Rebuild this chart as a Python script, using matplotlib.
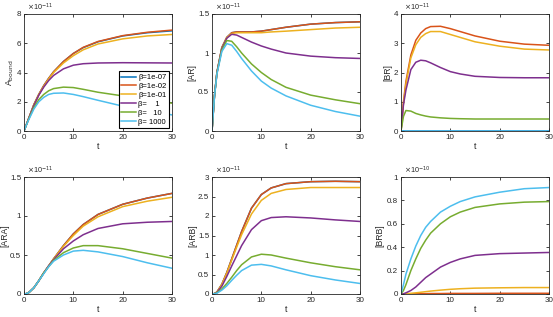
import matplotlib
matplotlib.use("Agg")
import matplotlib.pyplot as plt
from matplotlib.ticker import FormatStrFormatter

plt.rcParams["font.family"] = ["Liberation Sans", "DejaVu Sans"]
plt.rcParams["font.size"] = 7

# common time grid
t = [0, 0.5, 1, 2, 3, 4, 5, 6, 8, 10, 12, 15, 20, 25, 30]

labels = ["β=1e-07", "β=1e-02", "β=1e-01",
          "β=    1", "β=   10", "β= 1000"]
colors = ["#0072BD", "#D95319", "#EDB120", "#7E2F8E", "#77AC30", "#4DBEEE"]

# A_bound (x1e-11)
abound = [
    [0, 0.45, 0.9, 1.8, 2.5, 3.1, 3.6, 4.05, 4.75, 5.3, 5.7, 6.1, 6.5, 6.72, 6.85],
    [0, 0.45, 0.9, 1.8, 2.5, 3.1, 3.6, 4.05, 4.75, 5.3, 5.72, 6.12, 6.52, 6.75, 6.9],
    [0, 0.45, 0.9, 1.8, 2.5, 3.05, 3.55, 4.0, 4.65, 5.15, 5.55, 5.95, 6.3, 6.5, 6.6],
    [0, 0.45, 0.9, 1.75, 2.45, 3.0, 3.45, 3.8, 4.25, 4.5, 4.6, 4.65, 4.67, 4.66, 4.65],
    [0, 0.43, 0.85, 1.6, 2.15, 2.5, 2.75, 2.9, 3.0, 2.97, 2.85, 2.65, 2.4, 2.15, 1.9],
    [0, 0.42, 0.8, 1.5, 2.0, 2.3, 2.5, 2.58, 2.6, 2.5, 2.35, 2.1, 1.7, 1.4, 1.1],
]
# [AR] (x1e-11)
ar = [
    [0, 0.45, 0.75, 1.07, 1.2, 1.26, 1.27, 1.27, 1.27, 1.28, 1.3, 1.33, 1.37, 1.39, 1.4],
    [0, 0.45, 0.75, 1.07, 1.2, 1.26, 1.27, 1.27, 1.27, 1.28, 1.3, 1.33, 1.37, 1.39, 1.4],
    [0, 0.45, 0.75, 1.07, 1.2, 1.25, 1.26, 1.26, 1.26, 1.26, 1.27, 1.28, 1.3, 1.32, 1.33],
    [0, 0.45, 0.75, 1.06, 1.19, 1.24, 1.23, 1.2, 1.14, 1.09, 1.05, 1.0, 0.96, 0.94, 0.93],
    [0, 0.45, 0.74, 1.04, 1.16, 1.15, 1.08, 1.0, 0.86, 0.75, 0.66, 0.56, 0.46, 0.4, 0.35],
    [0, 0.44, 0.73, 1.02, 1.12, 1.1, 1.02, 0.93, 0.77, 0.64, 0.55, 0.45, 0.33, 0.25, 0.19],
]
# [BR] (x1e-11)
br = [
    [0] * 15,
    [0, 1.0, 1.7, 2.6, 3.1, 3.35, 3.5, 3.57, 3.58, 3.5, 3.4, 3.25, 3.07, 2.97, 2.93],
    [0, 0.95, 1.6, 2.5, 2.95, 3.2, 3.33, 3.4, 3.4, 3.3, 3.2, 3.05, 2.9, 2.8, 2.77],
    [0, 0.9, 1.4, 2.1, 2.35, 2.42, 2.4, 2.33, 2.17, 2.03, 1.95, 1.87, 1.83, 1.82, 1.82],
    [0, 0.5, 0.7, 0.68, 0.6, 0.55, 0.51, 0.48, 0.45, 0.43, 0.42, 0.41, 0.41, 0.41, 0.41],
    [0] * 15,
]
# [ARA] (x1e-11)
ara = [
    [0, 0.005, 0.02, 0.08, 0.17, 0.27, 0.36, 0.45, 0.62, 0.77, 0.89, 1.02, 1.15, 1.23, 1.29],
    [0, 0.005, 0.02, 0.08, 0.17, 0.27, 0.36, 0.45, 0.62, 0.77, 0.89, 1.02, 1.15, 1.23, 1.29],
    [0, 0.005, 0.02, 0.08, 0.17, 0.27, 0.36, 0.45, 0.61, 0.75, 0.87, 0.99, 1.12, 1.19, 1.24],
    [0, 0.005, 0.02, 0.08, 0.17, 0.27, 0.36, 0.44, 0.58, 0.68, 0.76, 0.84, 0.9, 0.92, 0.93],
    [0, 0.005, 0.02, 0.08, 0.17, 0.27, 0.35, 0.43, 0.53, 0.59, 0.62, 0.62, 0.58, 0.52, 0.46],
    [0, 0.005, 0.02, 0.08, 0.17, 0.26, 0.35, 0.42, 0.5, 0.55, 0.56, 0.54, 0.48, 0.4, 0.33],
]
# [ARB] (x1e-11)
arb = [
    [0, 0.01, 0.05, 0.25, 0.55, 0.9, 1.25, 1.6, 2.2, 2.55, 2.72, 2.83, 2.88, 2.89, 2.88],
    [0, 0.01, 0.05, 0.25, 0.55, 0.9, 1.25, 1.6, 2.2, 2.55, 2.72, 2.83, 2.88, 2.89, 2.88],
    [0, 0.01, 0.05, 0.24, 0.53, 0.87, 1.2, 1.52, 2.05, 2.4, 2.58, 2.68, 2.73, 2.73, 2.73],
    [0, 0.01, 0.04, 0.2, 0.45, 0.72, 0.98, 1.24, 1.65, 1.88, 1.96, 1.98, 1.95, 1.9, 1.86],
    [0, 0.01, 0.03, 0.13, 0.27, 0.43, 0.6, 0.75, 0.95, 1.02, 1.0, 0.92, 0.8, 0.7, 0.62],
    [0, 0.005, 0.02, 0.1, 0.21, 0.35, 0.48, 0.6, 0.74, 0.76, 0.72, 0.62, 0.47, 0.36, 0.27],
]
# [BRB] (x1e-10)
brb = [
    [0] * 15,
    [0, 0, 0.0005, 0.001, 0.002, 0.003, 0.003, 0.004, 0.004, 0.005, 0.005, 0.005, 0.006, 0.006, 0.006],
    [0, 0.0005, 0.002, 0.006, 0.01, 0.015, 0.02, 0.025, 0.033, 0.04, 0.045, 0.05, 0.053, 0.055, 0.055],
    [0, 0.002, 0.01, 0.03, 0.06, 0.1, 0.14, 0.17, 0.23, 0.27, 0.3, 0.33, 0.345, 0.35, 0.355],
    [0, 0.03, 0.08, 0.2, 0.3, 0.39, 0.46, 0.52, 0.6, 0.66, 0.7, 0.74, 0.77, 0.785, 0.79],
    [0, 0.08, 0.17, 0.3, 0.41, 0.5, 0.57, 0.62, 0.7, 0.75, 0.79, 0.83, 0.87, 0.9, 0.91],
]

panels = [
    (abound, r"A$_{\rm bound}$", 8, [0, 2, 4, 6, 8], "-11", -0.055),
    (ar, "[AR]", 1.5, [0, 0.5, 1, 1.5], "-11", -0.105),
    (br, "[BR]", 4, [0, 1, 2, 3, 4], "-11", -0.055),
    (ara, "[ARA]", 1.5, [0, 0.5, 1, 1.5], "-11", -0.1),
    (arb, "[ARB]", 3, [0, 0.5, 1, 1.5, 2, 2.5, 3], "-11", -0.1),
    (brb, "[BRB]", 1, [0, 0.2, 0.4, 0.6, 0.8, 1], "-10", -0.112),
]

W, H = 553, 317
fig = plt.figure(figsize=(W / 100, H / 100), dpi=100)
lefts = [24, 212, 401]
tops = [14, 177]
aw, ah = 148, 117

dark = "#262626"
for k, (data, ylab, ymax, yt, exp, lx) in enumerate(panels):
    r, c = divmod(k, 3)
    ax = fig.add_axes([lefts[c] / W, 1 - (tops[r] + ah) / H, aw / W, ah / H])
    for i in range(6):
        ax.plot(t, data[i], color=colors[i], lw=1.1, label=labels[i])
    ax.set_xlim(0, 30)
    ax.set_ylim(0, ymax)
    ax.set_xticks([0, 10, 20, 30])
    ax.set_yticks(yt)
    ax.yaxis.set_major_formatter(FormatStrFormatter("%g"))
    ax.tick_params(direction="in", top=True, right=True, length=2.5, width=0.6,
                   labelsize=5.8, colors=dark, pad=2)
    for s in ax.spines.values():
        s.set_linewidth(0.6)
        s.set_color(dark)
    ax.set_xlabel("t", fontsize=6.5, color=dark, labelpad=1)
    ax.set_ylabel(ylab, fontsize=6.2, color=dark)
    ax.yaxis.set_label_coords(lx, 0.5)
    ax.text(0.02, 1.005, r"$\times$10$^{%s}$" % exp, transform=ax.transAxes,
            fontsize=5.2, color=dark, ha="left", va="bottom")
    if k == 0:
        leg = ax.legend(loc="lower right", fontsize=5.5, handlelength=2.0,
                        handletextpad=0.25, borderpad=0.35, labelspacing=0.2,
                        borderaxespad=0.35, fancybox=False, framealpha=1)
        leg.get_frame().set_edgecolor("black")
        leg.get_frame().set_linewidth(0.8)

fig.savefig("out.png", dpi=100)
